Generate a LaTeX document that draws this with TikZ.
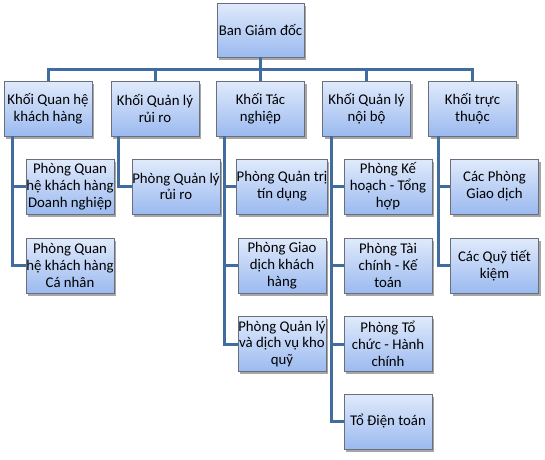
\documentclass[tikz,border=0pt]{standalone}
\usepackage{fontspec}
\setmainfont{Carlito}
\usetikzlibrary{shadows}
\definecolor{linec}{RGB}{64,108,160}
\definecolor{boxtop}{RGB}{224,234,251}
\definecolor{boxbot}{RGB}{155,186,240}
\definecolor{boxdraw}{RGB}{105,112,125}
\tikzset{
  orgbox/.style={rectangle, draw=boxdraw, line width=0.9pt,
    top color=boxtop, bottom color=boxbot,
    minimum width=88pt, minimum height=55pt, inner sep=0pt,
    align=center, font=\fontsize{14.8}{16.8}\selectfont,
    drop shadow={shadow xshift=2pt, shadow yshift=-2.5pt, fill=black, opacity=0.35}},
  conn/.style={draw=linec, line width=3pt, line join=miter}
}
\begin{document}
\begin{tikzpicture}[x=1pt,y=-1pt]
\useasboundingbox (0,0) rectangle (545,459);
% level 0
\node[orgbox, minimum width=87pt, minimum height=54pt] (top) at (260.5,30) {Ban Giám đốc};
% level 1
\node[orgbox] (k1) at (48,108.5) {Khối Quan hệ\\khách hàng};
\node[orgbox] (k2) at (155,108.5) {Khối Quản lý\\rủi ro};
\node[orgbox] (k3) at (260.5,108.5) {Khối Tác\\nghiệp};
\node[orgbox] (k4) at (366.5,108.5) {Khối Quản lý\\nội bộ};
\node[orgbox] (k5) at (472.5,108.5) {Khối trực\\thuộc};
% level 2
\node[orgbox] (p11) at (70,186.5) {Phòng Quan\\hệ khách hàng\\Doanh nghiệp};
\node[orgbox] (p12) at (70,265.5) {Phòng Quan\\hệ khách hàng\\Cá nhân};
\node[orgbox] (p21) at (176,186.5) {Phòng Quản lý\\rủi ro};
\node[orgbox] (p31) at (282,186.5) {Phòng Quản trị\\tín dụng};
\node[orgbox] (p32) at (282,265.5) {Phòng Giao\\dịch khách\\hàng};
\node[orgbox] (p33) at (282,344) {Phòng Quản lý\\và dịch vụ kho\\quỹ};
\node[orgbox] (p41) at (388,186.5) {Phòng Kế\\hoạch - Tổng\\hợp};
\node[orgbox] (p42) at (388,265.5) {Phòng Tài\\chính - Kế\\toán};
\node[orgbox] (p43) at (388,344) {Phòng Tổ\\chức - Hành\\chính};
\node[orgbox] (p44) at (388,421.5) {Tổ Điện toán};
\node[orgbox] (p51) at (494.5,186.5) {Các Phòng\\Giao dịch};
\node[orgbox] (p52) at (494.5,265.5) {Các Quỹ tiết\\kiệm};
% connectors level 0 -> 1
\foreach \k in {k1,k2,k3,k4,k5}{
  \draw[conn] (top.south) -- ++(0,12) -| (\k.north);
}
% connectors level 1 -> 2
\draw[conn] (k1.south west) ++(9,0) |- (p11.west);
\draw[conn] (k1.south west) ++(9,0) |- (p12.west);
\draw[conn] (k2.south west) ++(8,0) |- (p21.west);
\draw[conn] (k3.south west) ++(8,0) |- (p31.west);
\draw[conn] (k3.south west) ++(8,0) |- (p32.west);
\draw[conn] (k3.south west) ++(8,0) |- (p33.west);
\draw[conn] (k4.south west) ++(9,0) |- (p41.west);
\draw[conn] (k4.south west) ++(9,0) |- (p42.west);
\draw[conn] (k4.south west) ++(9,0) |- (p43.west);
\draw[conn] (k4.south west) ++(9,0) |- (p44.west);
\draw[conn] (k5.south west) ++(10,0) |- (p51.west);
\draw[conn] (k5.south west) ++(10,0) |- (p52.west);
\end{tikzpicture}
\end{document}
